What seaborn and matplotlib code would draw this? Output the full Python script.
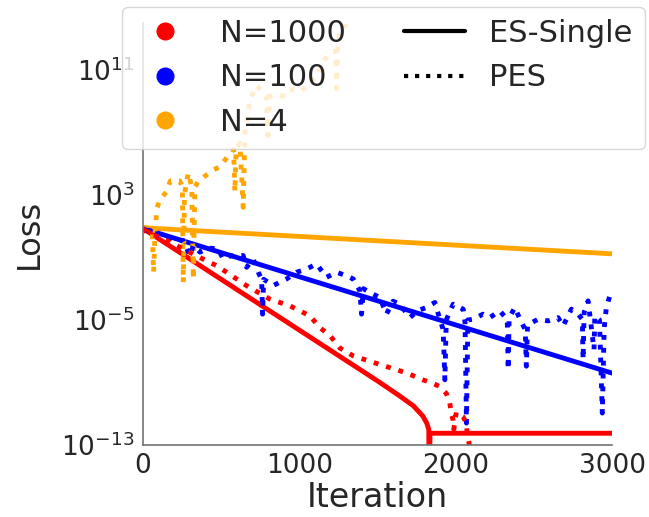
"""
Loss vs iteration for ES-Single and PES at three population sizes (log scale).
Output: out.png
"""

import numpy as np
import matplotlib
matplotlib.use('Agg')
import matplotlib.pyplot as plt
from matplotlib.lines import Line2D
import seaborn as sns

sns.set_theme(style="white")
plt.rcParams['font.family'] = ['DejaVu Sans']

# values are log10(loss)
es_iter = [0, 3000]
es_n4 = [0.9, -0.77]
es_n100 = [0.85, -8.4]

es_n1000_iter = [0, 1500, 1640, 1730, 1790, 1815, 1828, 1831, 1836, 3000]
es_n1000 = [0.85, -8.9, -9.85, -10.5, -11.15, -11.6, -12.0, -16.0, -12.25, -12.25]

pes_n1000_iter = [0, 23, 128, 256, 384, 471, 535, 663, 812, 940, 1004, 1068, 1132,
                  1196, 1260, 1345, 1515, 1686, 1790, 1854, 1897, 1940, 1962, 1973,
                  1983, 1988, 2004, 2047, 2069, 2073, 2086, 2092]
pes_n1000 = [0.85, 0.62, 0.19, -0.45, -1.1, -1.53, -1.95, -2.81, -3.67, -4.1, -4.42,
             -4.74, -5.5, -6.0, -6.8, -7.3, -7.85, -8.39, -8.83, -9.05, -9.26, -9.7,
             -10.3, -11.0, -11.4, -12.0, -10.9, -11.2, -11.6, -12.25, -12.9, -14.0]

pes_n100_iter = [0, 23, 87, 173, 258, 300, 322, 364, 420, 481, 513, 560, 641, 663,
                 705, 740, 759, 765, 772, 833, 918, 982, 1046, 1110, 1174, 1238, 1302,
                 1345, 1387, 1398, 1410, 1460, 1515, 1557, 1600, 1643, 1707, 1760,
                 1813, 1867, 1899, 1920, 1931, 1940, 1984, 2048, 2060, 2069, 2078,
                 2111, 2175, 2218, 2282, 2330, 2336, 2342, 2378, 2421, 2445, 2452,
                 2460, 2527, 2591, 2655, 2687, 2740, 2783, 2810, 2815, 2822, 2847,
                 2885, 2890, 2920, 2938, 2950, 2964, 2986, 3000]
pes_n100 = [0.85, 0.73, 0.51, 0.19, 0.08, -0.9, -0.23, -0.66, -0.4, -0.45, -1.1, -0.9,
            -0.88, -1.63, -1.1, -2.0, -2.4, -4.63, -2.4, -2.8, -2.38, -1.95, -1.74,
            -1.42, -2.27, -1.95, -2.17, -2.38, -3.13, -4.63, -3.0, -3.3, -3.56, -4.63,
            -3.8, -3.99, -4.85, -4.4, -4.2, -3.88, -4.96, -5.6, -8.83, -5.0, -3.99,
            -4.31, -5.17, -11.6, -5.0, -4.96, -4.63, -4.85, -4.42, -4.96, -8.17, -4.9,
            -4.2, -5.17, -5.6, -7.96, -5.3, -4.96, -5.06, -4.85, -5.39, -4.31, -4.63,
            -4.96, -7.53, -4.5, -3.78, -6.9, -4.74, -5.0, -10.96, -5.5, -4.2, -3.46,
            -3.3]

pes_n4_iter = [0, 30, 60, 68, 78, 90, 110, 150, 175, 235, 252, 258, 265, 290, 312,
               322, 332, 355, 396, 450, 492, 545, 580, 588, 596, 620, 641, 652, 684,
               727, 790, 800, 810, 854, 918, 960, 1014, 1078, 1110, 1152, 1194, 1232,
               1238, 1245, 1260, 1300, 1320]
pes_n4 = [0.9, 0.9, 0.5, -1.95, 0.8, 2.2, 2.7, 3.2, 3.9, 3.9, 3.5, -2.6, 3.0, 4.4,
          3.5, -2.4, 3.5, 3.9, 4.2, 4.6, 4.8, 5.5, 5.9, 3.2, 6.0, 6.3, 2.2, 7.0, 9.1,
          10.0, 9.3, 6.8, 9.3, 9.4, 9.3, 9.8, 9.65, 10.3, 10.5, 11.5, 12.1, 12.2, 9.8,
          12.3, 13.6, 13.9, 14.6]

labels = ['N=1000', 'N=100', 'N=4']
colors = ['red', 'blue', 'orange']

fig = plt.figure(figsize=(6.49, 5.17), dpi=100)
ax = fig.add_axes([0.2203, 0.1393, 0.7227, 0.8162])

lw = 3.5
series = [
    (es_iter, es_n4, 'orange', '-'),
    (es_iter, es_n100, 'blue', '-'),
    (es_n1000_iter, es_n1000, 'red', '-'),
    (pes_n4_iter, pes_n4, 'orange', ':'),
    (pes_n100_iter, pes_n100, 'blue', ':'),
    (pes_n1000_iter, pes_n1000, 'red', ':'),
]
for x, logy, c, ls in series:
    sns.lineplot(x=x, y=10.0 ** np.array(logy), color=c, linestyle=ls, lw=lw,
                 estimator=None, sort=False, legend=False, ax=ax)

ax.set_yscale('log')
ax.set_xlim(0, 3000)
ax.set_ylim(1e-13, 1e14)
ax.set_yticks([1e-13, 1e-5, 1e3, 1e11])
ax.minorticks_off()
ax.set_xticks([0, 1000, 2000, 3000])
ax.tick_params(labelsize=19, length=0, pad=6)
ax.set_xlabel('Iteration', fontsize=24, labelpad=1)
ax.set_ylabel('Loss', fontsize=23, labelpad=12)
sns.despine(ax=ax)
for s in ['left', 'bottom']:
    ax.spines[s].set_color('0.45')
    ax.spines[s].set_linewidth(1.2)

handles = [Line2D([], [], marker='o', color=c, linestyle='', markersize=12) for c in colors]
handles += [Line2D([], [], color='black', lw=3, linestyle='-'),
            Line2D([], [], color='black', lw=3, linestyle=':')]
names = labels + ['ES-Single', 'PES']
# pad with empty entry so the two columns line up
handles.insert(5, Line2D([], [], linestyle='', marker=''))
names.insert(5, '')
ax.legend(handles, names, ncol=2, fontsize=22, loc='upper left',
          bbox_to_anchor=(-0.045, 1.038), borderaxespad=0, labelspacing=0.5,
          handletextpad=0.8, columnspacing=1.9, frameon=True, framealpha=0.8)

fig.savefig('out.png', dpi=100)
